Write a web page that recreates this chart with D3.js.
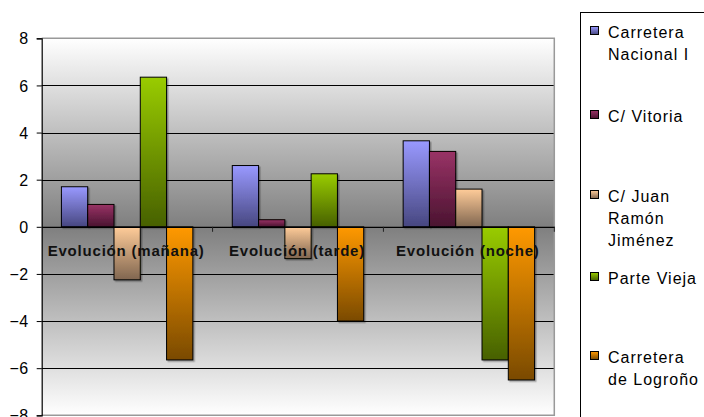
<!DOCTYPE html>
<html>
<head>
<meta charset="utf-8">
<script src="https://cdn.jsdelivr.net/npm/d3@7"></script>
<style>
  html, body { margin: 0; padding: 0; background: #fff; }
  svg { display: block; font-family: "Liberation Sans", Arial, sans-serif; }
</style>
</head>
<body>
<svg id="chart" width="704" height="417"></svg>
<script>
// Time-of-day groups along the category axis
const categories = ["Evolución (mañana)", "Evolución (tarde)", "Evolución (noche)"];

// Street / zone series, each with one value per group
const seriesNames = ["Carretera Nacional I", "C/ Vitoria", "C/ Juan Ramón Jiménez", "Parte Vieja", "Carretera de Logroño"];
const carreteraNacional = [1.7, 2.6, 3.65];
const vitoria = [0.95, 0.3, 3.2];
const juanRamon = [-2.25, -1.35, 1.6];
const parteVieja = [6.35, 2.25, -5.65];
const carreteraLogrono = [-5.65, -4.0, -6.5];
const seriesValues = [carreteraNacional, vitoria, juanRamon, parteVieja, carreteraLogrono];

// Legend wording split over lines
const legendLines = [
  ["Carretera", "Nacional I"],
  ["C/ Vitoria"],
  ["C/ Juan", "Ramón", "Jiménez"],
  ["Parte Vieja"],
  ["Carretera", "de Logroño"]
];

const yTicks = [-8, -6, -4, -2, 0, 2, 4, 6, 8];

// Fill colours: light top tone and dark bottom tone per series
const topColors = ["#9999ff", "#993366", "#ffcc99", "#99cc00", "#ff9900"];
const bottomColors = ["#474780", "#4a1430", "#806650", "#476000", "#7a4a00"];

const svg = d3.select("#chart");
const plot = { left: 41.7, right: 554.3, top: 38.3, bottom: 415.3 };

const x0 = d3.scaleBand().domain(categories).range([plot.left, plot.right]).padding(0);
const bw = x0.bandwidth();
const x1 = d3.scaleBand().domain(d3.range(seriesNames.length))
  .range([bw * 0.75 / 6.5, bw * 5.75 / 6.5]).padding(0);
const y = d3.scaleLinear().domain([-8, 8]).range([plot.bottom, plot.top]);

const defs = svg.append("defs");
// plot area backdrop: white at the edges, mid grey at the centre
const bg = defs.append("linearGradient").attr("id", "plotBg")
  .attr("x1", 0).attr("y1", 0).attr("x2", 0).attr("y2", 1);
bg.append("stop").attr("offset", "0%").attr("stop-color", "#ffffff");
bg.append("stop").attr("offset", "50%").attr("stop-color", "#7f7f7f");
bg.append("stop").attr("offset", "100%").attr("stop-color", "#ffffff");

topColors.forEach((c, i) => {
  const g = defs.append("linearGradient").attr("id", "barGrad" + i)
    .attr("x1", 0).attr("y1", 0).attr("x2", 0).attr("y2", 1);
  g.append("stop").attr("offset", "0%").attr("stop-color", c);
  g.append("stop").attr("offset", "100%").attr("stop-color", bottomColors[i]);
});

// soft shadow under each bar
const shadow = defs.append("filter").attr("id", "barShadow")
  .attr("x", "-10%").attr("y", "-10%").attr("width", "130%").attr("height", "130%");
shadow.append("feDropShadow")
  .attr("dx", 1.5).attr("dy", 1.5).attr("stdDeviation", 0.6)
  .attr("flood-color", "#000").attr("flood-opacity", 0.3);

// plot background
svg.append("rect")
  .attr("x", plot.left).attr("y", plot.top)
  .attr("width", plot.right - plot.left).attr("height", plot.bottom - plot.top)
  .attr("fill", "url(#plotBg)");

// horizontal gridlines
svg.append("g").selectAll("line")
  .data(yTicks.filter(t => t !== 8 && t !== -8 && t !== 0))
  .join("line")
  .attr("x1", plot.left).attr("x2", plot.right)
  .attr("y1", d => Math.round(y(d)) + 0.5).attr("y2", d => Math.round(y(d)) + 0.5)
  .attr("stroke", "#000").attr("stroke-width", 1);

// plot frame (top, right, bottom)
svg.append("path")
  .attr("d", `M${plot.left},${plot.top}H${plot.right}V${plot.bottom}H${plot.left}`)
  .attr("fill", "none").attr("stroke", "#999").attr("stroke-width", 1.5);

// bars
const groups = svg.append("g").selectAll("g")
  .data(categories)
  .join("g")
  .attr("transform", d => `translate(${x0(d)},0)`);

groups.selectAll("rect")
  .data((d, ci) => seriesValues.map((vals, si) => ({ si, v: vals[ci] })))
  .join("rect")
  .attr("x", d => x1(d.si))
  .attr("width", x1.bandwidth())
  .attr("y", d => y(Math.max(0, d.v)))
  .attr("height", d => Math.abs(y(d.v) - y(0)))
  .attr("fill", d => `url(#barGrad${d.si})`)
  .attr("stroke", "#000").attr("stroke-width", 1)
  .attr("filter", "url(#barShadow)");

// y axis
const yAxis = d3.axisLeft(y).tickValues(yTicks).tickSize(5).tickPadding(8);
const ya = svg.append("g").attr("transform", `translate(${plot.left},0)`).call(yAxis);
ya.select(".domain").attr("stroke", "#000").attr("stroke-width", 1.2);
ya.selectAll(".tick line").attr("stroke", "#000");
ya.selectAll(".tick text")
  .attr("font-family", "Liberation Sans, Arial, sans-serif")
  .attr("font-size", 16).attr("fill", "#000").attr("dy", "0.35em")
  .attr("letter-spacing", "0.5px");

// category axis along zero
const xAxis = d3.axisBottom(x0).tickSize(0).tickFormat("");
const xa = svg.append("g").attr("transform", `translate(0,${y(0)})`).call(xAxis);
xa.select(".domain").attr("stroke", "#000").attr("stroke-width", 1.2);
xa.selectAll(".tick").remove();
xa.selectAll(".sep")
  .data(categories.map(c => x0(c) + bw).filter(v => v > plot.left))
  .join("line").attr("class", "sep")
  .attr("x1", d => d).attr("x2", d => d)
  .attr("y1", 0).attr("y2", 5)
  .attr("stroke", "#222").attr("stroke-width", 1);

// category labels drawn over the bars
svg.append("g").selectAll("text")
  .data(categories)
  .join("text")
  .attr("x", d => x0(d) + bw / 2 - 1)
  .attr("y", y(0) + 29.5)
  .attr("text-anchor", "middle")
  .attr("font-size", 15).attr("font-weight", "bold")
  .attr("letter-spacing", "0.8px")
  .attr("fill", "#111")
  .text(d => d);

// legend
const legend = svg.append("g");
legend.append("rect")
  .attr("x", 580.5).attr("y", 12.5).attr("width", 140).attr("height", 420)
  .attr("fill", "#fff").attr("stroke", "#000").attr("stroke-width", 1);

const entryTops = [26, 110, 190, 272, 351];
const items = legend.selectAll(".item")
  .data(seriesNames)
  .join("g").attr("class", "item")
  .attr("transform", (d, i) => `translate(590.5,${entryTops[i] + 0.5})`);
items.append("rect")
  .attr("width", 8).attr("height", 8)
  .attr("fill", (d, i) => `url(#barGrad${i})`)
  .attr("stroke", "#000").attr("stroke-width", 1);
items.each(function (d, i) {
  const t = d3.select(this).append("text")
    .attr("x", 17.5).attr("y", 11.8)
    .attr("font-size", 16).attr("fill", "#000")
    .attr("letter-spacing", "1px");
  legendLines[i].forEach((ln, k) => {
    t.append("tspan").attr("x", 17.5).attr("dy", k === 0 ? 0 : 21.7).text(ln);
  });
});
</script>
</body>
</html>
